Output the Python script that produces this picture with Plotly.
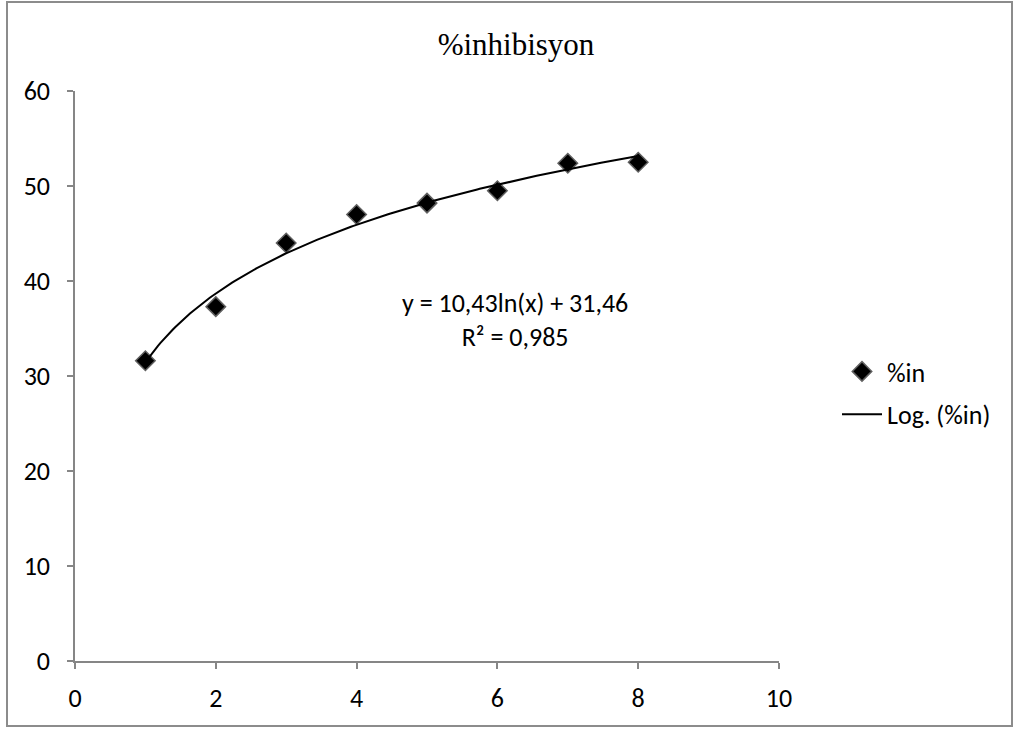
import numpy as np
import plotly.graph_objects as go

# Data
x_vals = [1, 2, 3, 4, 5, 6, 7, 8]
y_vals = [31.6, 37.3, 44.0, 47.0, 48.2, 49.5, 52.4, 52.5]
x_ticks = [0, 2, 4, 6, 8, 10]
y_ticks = [0, 10, 20, 30, 40, 50, 60]
coef_a = 10.43
coef_b = 31.46
r2_text = "0,985"
title_text = "%inhibisyon"
series_name = "%in"
trend_name = "Log. (%in)"

# Trendline from the equation y = a ln(x) + b
xt = np.linspace(min(x_vals), max(x_vals), 200)
yt = coef_a * np.log(xt) + coef_b

sans = "Carlito, Calibri, Liberation Sans, Arial, sans-serif"
serif = "Liberation Serif"

fig = go.Figure()
fig.add_trace(go.Scatter(
    x=x_vals, y=y_vals, mode="markers", name=series_name,
    legendgroup="a",
    marker=dict(symbol="diamond", size=15, color="black",
                line=dict(color="#606060", width=1.5)),
))
fig.add_trace(go.Scatter(
    x=xt, y=yt, mode="lines", name=trend_name, legendgroup="b",
    line=dict(color="black", width=2),
))

W, H = 1015, 729
L, R, T, B = 75, 779, 91, 661
pw, ph = R - L, B - T

def px(p):
    return (p - L) / pw

def py(p):
    return (B - p) / ph

fig.add_annotation(
    x=6.25, y=35.9, xref="x", yref="y",
    text=f"y = {coef_a:.2f}ln(x) + {coef_b:.2f}".replace(".", ",") + f"<br>R² = {r2_text}",
    showarrow=False, font=dict(family=sans, size=26, color="black"),
    align="center",
)

fig.add_shape(type="rect", xref="paper", yref="paper",
              x0=px(7), x1=px(1012), y0=py(2), y1=py(726),
              line=dict(color="#8c8c8c", width=2), fillcolor="rgba(0,0,0,0)")

axis_common = dict(
    showgrid=False, zeroline=False, showline=True, linecolor="#868686",
    linewidth=1.5, ticks="outside", ticklen=6, tickcolor="#868686",
    tickwidth=1.5, tickfont=dict(family=sans, size=26, color="black"),
)

fig.update_layout(
    width=W, height=H,
    margin=dict(l=L, r=W - R, t=T, b=H - B),
    paper_bgcolor="white", plot_bgcolor="white",
    title=dict(text=title_text, x=(516) / W, xanchor="center",
               y=1 - 44 / H, yanchor="middle",
               font=dict(family=serif, size=31, color="black")),
    xaxis=dict(range=[0, 10], tickvals=x_ticks, ticklabelstandoff=7,
               **axis_common),
    yaxis=dict(range=[0, 60], tickvals=y_ticks, ticklabelstandoff=12,
               **axis_common),
    showlegend=True,
    legend=dict(x=px(837), y=py(348), xanchor="left", yanchor="top",
                font=dict(family=sans, size=26, color="black"),
                bgcolor="rgba(0,0,0,0)", tracegroupgap=6,
                itemwidth=40),
)

fig.write_html("out.html", config={"displayModeBar": False},
               post_script="document.body.style.margin='0px';")
